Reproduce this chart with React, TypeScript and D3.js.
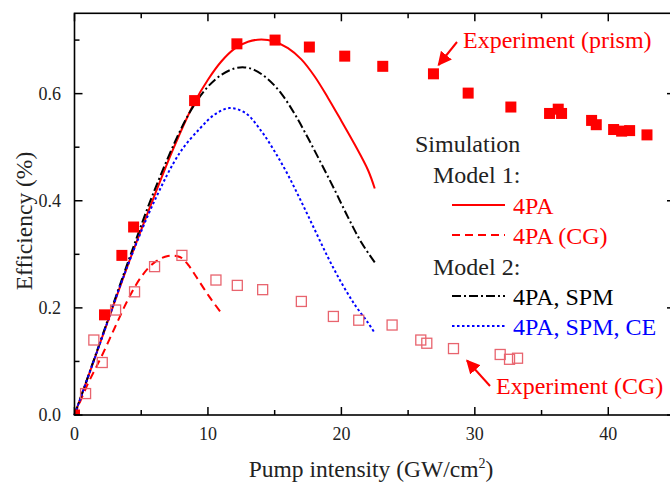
import React from "react";
import * as d3 from "d3";

// ---- data ----
const prismX = [0, 2.25, 3.55, 4.43, 9.0, 12.17, 15.03, 17.6, 20.25, 23.1, 26.9, 29.5, 32.7, 35.6, 36.25, 36.5, 38.75, 39.1, 40.4, 41.0, 41.6, 42.9];
const prismY = [0, 0.187, 0.298, 0.351, 0.587, 0.693, 0.700, 0.687, 0.670, 0.651, 0.637, 0.601, 0.575, 0.563, 0.571, 0.563, 0.550, 0.542, 0.533, 0.530, 0.531, 0.523];

const cgX = [0.83, 1.45, 2.08, 3.08, 4.5, 6.0, 8.05, 10.6, 12.2, 14.1, 17.0, 19.4, 21.3, 23.8, 25.95, 26.4, 28.4, 31.9, 32.6, 33.2];
const cgY = [0.040, 0.140, 0.098, 0.196, 0.230, 0.277, 0.298, 0.252, 0.242, 0.234, 0.212, 0.184, 0.177, 0.168, 0.140, 0.134, 0.124, 0.113, 0.104, 0.106];

const m1X = [0, 2, 4, 6, 7.4, 9, 10, 11, 12, 13, 14, 15, 16, 17, 18, 19, 20, 21, 22, 22.5];
const m1Y = [0, 0.14, 0.28, 0.41, 0.497, 0.584, 0.626, 0.660, 0.684, 0.697, 0.701, 0.697, 0.685, 0.664, 0.632, 0.592, 0.549, 0.505, 0.457, 0.423];

const m1cgX = [0, 1, 2, 3, 4, 5, 6, 7, 7.9, 8.5, 9.1, 10.1, 11.1];
const m1cgY = [0, 0.058, 0.108, 0.162, 0.215, 0.258, 0.285, 0.297, 0.295, 0.281, 0.259, 0.221, 0.187];

const m2X = [0, 2, 4, 6, 8, 9, 10, 11, 12, 12.75, 13.5, 14.5, 15.5, 16.5, 17.5, 18.5, 19.5, 20.5, 21.5, 22.5];
const m2Y = [0, 0.142, 0.285, 0.42, 0.535, 0.58, 0.613, 0.635, 0.647, 0.649, 0.644, 0.627, 0.600, 0.562, 0.517, 0.469, 0.420, 0.369, 0.322, 0.285];

const m2ceX = [0, 2, 4, 6, 7.9, 9.4, 10.5, 11.6, 12.8, 14, 15, 16, 17, 18, 19, 20, 21, 22, 22.5];
const m2ceY = [0, 0.14, 0.28, 0.40, 0.490, 0.535, 0.561, 0.573, 0.564, 0.530, 0.492, 0.448, 0.398, 0.346, 0.294, 0.247, 0.206, 0.172, 0.153];

const xMajor = [0, 10, 20, 30, 40];
const xMinor = [5, 15, 25, 35];
const yMajor = [0, 0.2, 0.4, 0.6];
const yMinor = [0.1, 0.3, 0.5, 0.7];

const legendHeaders = ["Simulation", "Model 1:", "Model 2:"];
const legendEntries = ["4PA", "4PA (CG)", "4PA, SPM", "4PA, SPM, CE"];

const RED = "#ff0000";
const LIGHTRED = "#e8646e";
const BLUE = "#0000ff";
const FONT = "'Liberation Serif', 'Times New Roman', serif";

export default function App() {
  const W = 670, H = 482;
  const L = 74.5, R = 675, T = 13.3, B = 415;
  const x = d3.scaleLinear().domain([0, 45]).range([L, R]);
  const y = d3.scaleLinear().domain([0, 0.75]).range([B, T]);

  const mk = (xs: number[], ys: number[]) =>
    d3.line<number>().x((_, i) => x(xs[i])).y((_, i) => y(ys[i])).curve(d3.curveCatmullRom.alpha(0.5))(xs);

  const sq = 10;
  const legendLines = [
    { stroke: RED, dash: undefined, color: RED },
    { stroke: RED, dash: "8,5", color: RED },
    { stroke: "#000", dash: "9,3,2,3", color: "#000" },
    { stroke: BLUE, dash: "2.5,2.5", color: BLUE },
  ];
  const entryBase = [214, 244, 305, 335];
  const headerPos = [
    { x: 415, y: 152 },
    { x: 433, y: 183 },
    { x: 433, y: 275 },
  ];

  return (
    <svg width={W} height={H} style={{ position: "absolute", left: 0, top: 0, background: "#fff" }}>
      <defs>
        <clipPath id="plot">
          <rect x={L} y={T} width={R - L} height={B - T} />
        </clipPath>
        <marker id="arr" viewBox="0 0 10 10" refX="9" refY="5" markerWidth="7" markerHeight="7" orient="auto">
          <path d="M0,0 L10,5 L0,10 z" fill={RED} />
        </marker>
      </defs>
      <rect x={0} y={0} width={W} height={H} fill="#fff" />

      {/* curves */}
      <path d={mk(m1X, m1Y) || ""} fill="none" stroke={RED} strokeWidth={2} />
      <path d={mk(m1cgX, m1cgY) || ""} fill="none" stroke={RED} strokeWidth={2} strokeDasharray="8,5" />
      <path d={mk(m2X, m2Y) || ""} fill="none" stroke="#000" strokeWidth={2} strokeDasharray="9,3,2,3" />
      <path d={mk(m2ceX, m2ceY) || ""} fill="none" stroke={BLUE} strokeWidth={2} strokeDasharray="2.5,2.5" />

      {/* markers */}
      <g clipPath="url(#plot)">
        {cgX.map((v, i) => (
          <rect key={"c" + i} x={x(v) - sq / 2} y={y(cgY[i]) - sq / 2} width={sq} height={sq}
            fill="none" stroke={LIGHTRED} strokeWidth={1.3} />
        ))}
        {prismX.map((v, i) => (
          <rect key={"p" + i} x={x(v) - sq / 2 - 0.5} y={y(prismY[i]) - sq / 2 - 0.5} width={sq + 1} height={sq + 1}
            fill={RED} />
        ))}
      </g>

      {/* frame */}
      <rect x={L} y={T} width={R - L} height={B - T} fill="none" stroke="#000" strokeWidth={1.6} />
      {xMajor.map((v) => (
        <g key={"xm" + v}>
          <line x1={x(v)} x2={x(v)} y1={B} y2={B - 8} stroke="#000" strokeWidth={1.5} />
          <line x1={x(v)} x2={x(v)} y1={T} y2={T + 8} stroke="#000" strokeWidth={1.5} />
          <text x={x(v)} y={440} textAnchor="middle" fontFamily={FONT} fontSize={18} fill="#222">{v}</text>
        </g>
      ))}
      {xMinor.map((v) => (
        <g key={"xn" + v}>
          <line x1={x(v)} x2={x(v)} y1={B} y2={B - 5} stroke="#000" strokeWidth={1.5} />
          <line x1={x(v)} x2={x(v)} y1={T} y2={T + 5} stroke="#000" strokeWidth={1.5} />
        </g>
      ))}
      {yMajor.map((v) => (
        <g key={"ym" + v}>
          <line x1={L} x2={L + 8} y1={y(v)} y2={y(v)} stroke="#000" strokeWidth={1.5} />
          <line x1={R} x2={R - 8} y1={y(v)} y2={y(v)} stroke="#000" strokeWidth={1.5} />
          <text x={61} y={y(v) + 6} textAnchor="end" fontFamily={FONT} fontSize={18} fill="#222">{v.toFixed(1)}</text>
        </g>
      ))}
      {yMinor.map((v) => (
        <g key={"yn" + v}>
          <line x1={L} x2={L + 5} y1={y(v)} y2={y(v)} stroke="#000" strokeWidth={1.5} />
          <line x1={R} x2={R - 5} y1={y(v)} y2={y(v)} stroke="#000" strokeWidth={1.5} />
        </g>
      ))}

      {/* axis titles */}
      <text x={371} y={477} textAnchor="middle" fontFamily={FONT} fontSize={23.5} fill="#222">
        Pump intensity (GW/cm<tspan dy={-9} fontSize={14}>2</tspan><tspan dy={9}>)</tspan>
      </text>
      <text transform="translate(32,221) rotate(-90)" textAnchor="middle" fontFamily={FONT} fontSize={23.5} fill="#222">
        Efficiency (%)
      </text>

      {/* legend */}
      {legendHeaders.map((t, i) => (
        <text key={t} x={headerPos[i].x} y={headerPos[i].y} fontFamily={FONT} fontSize={24} fill="#222">{t}</text>
      ))}
      {legendEntries.map((t, i) => (
        <g key={t}>
          <line x1={452} x2={505} y1={entryBase[i] - 9} y2={entryBase[i] - 9} stroke={legendLines[i].stroke}
            strokeWidth={2} strokeDasharray={legendLines[i].dash} />
          <text x={513} y={entryBase[i]} fontFamily={FONT} fontSize={24} fill={legendLines[i].color}>{t}</text>
        </g>
      ))}

      {/* annotations */}
      <text x={463} y={48} fontFamily={FONT} fontSize={24} fill={RED}>Experiment (prism)</text>
      <line x1={457} y1={42} x2={438.5} y2={65} stroke={RED} strokeWidth={2} markerEnd="url(#arr)" />
      <text x={496} y={394} fontFamily={FONT} fontSize={24} fill={RED}>Experiment (CG)</text>
      <line x1={490} y1={386} x2={467} y2={360.5} stroke={RED} strokeWidth={2} markerEnd="url(#arr)" />
    </svg>
  );
}
